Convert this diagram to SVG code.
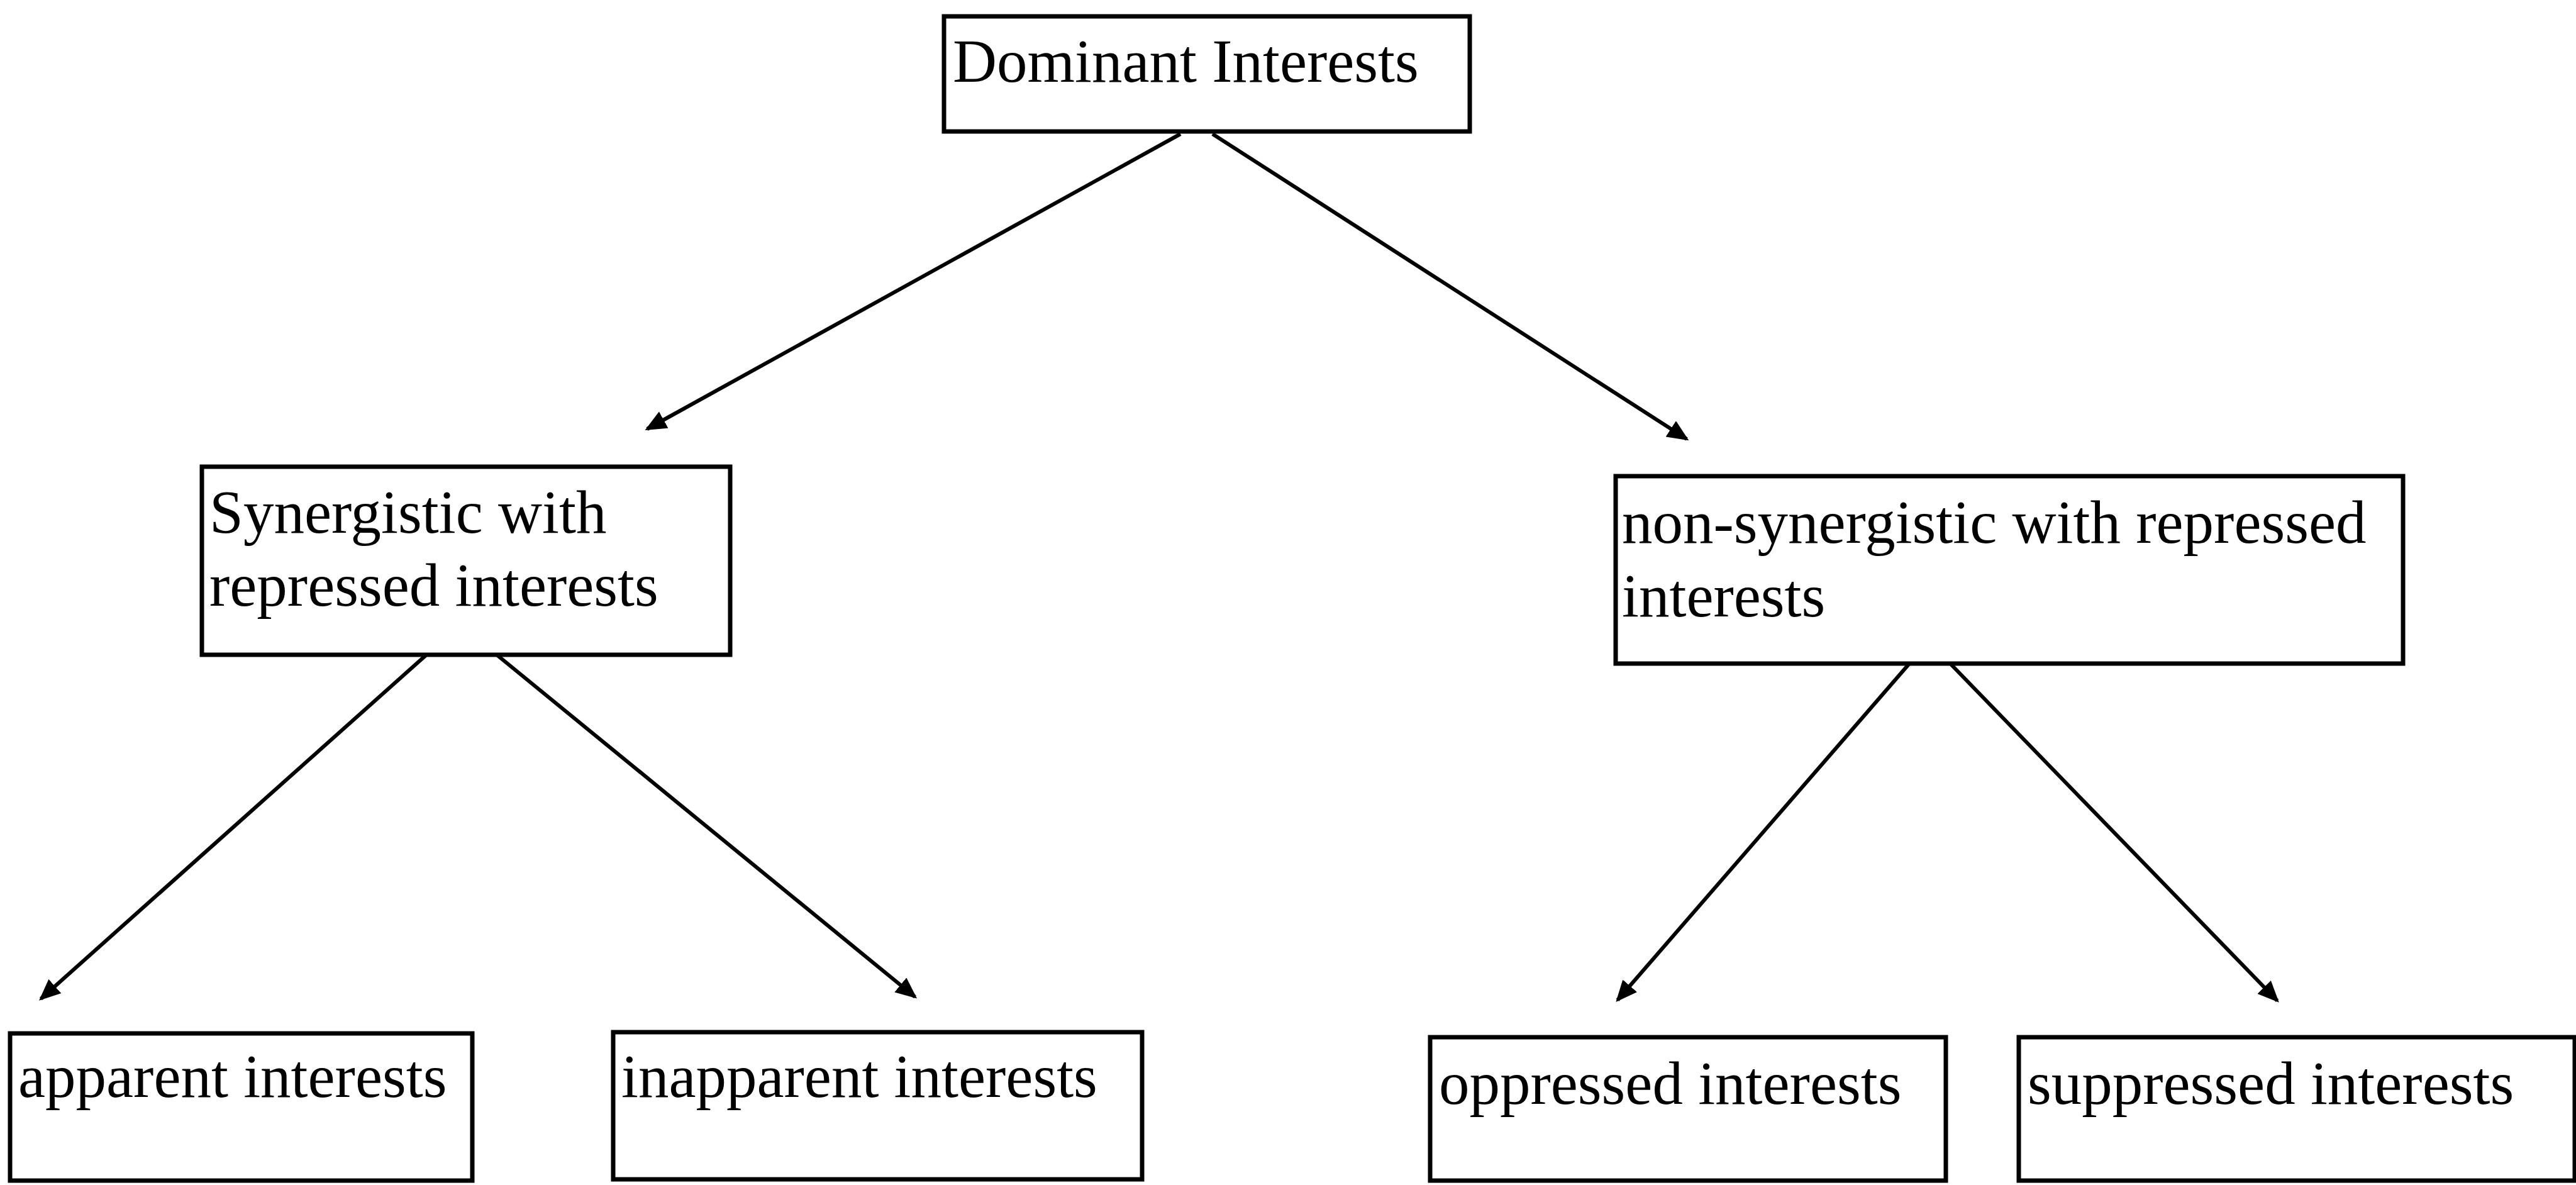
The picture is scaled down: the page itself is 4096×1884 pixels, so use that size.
<svg xmlns="http://www.w3.org/2000/svg" width="4096" height="1884" viewBox="0 0 4096 1884">
<style>
.box{fill:#fff;stroke:#000;stroke-width:7}
.t{font-family:"Liberation Serif","Times New Roman",serif;font-size:97px;fill:#000}
.c{stroke:#000;stroke-width:6;fill:none;marker-end:url(#ah)}
</style>
<defs>
<marker id="ah" viewBox="0 0 34 30" refX="30" refY="15" markerWidth="34" markerHeight="30" markerUnits="userSpaceOnUse" orient="auto">
<path d="M0,0 L34,15 L0,30 Z" fill="#000"/>
</marker>
</defs>
<rect width="4096" height="1884" fill="#fff"/>
<g id="connectors">
<line class="c" x1="1877" y1="213" x2="1029" y2="682"/>
<line class="c" x1="1928" y1="213" x2="2682" y2="698"/>
<line class="c" x1="677" y1="1042" x2="65" y2="1588"/>
<line class="c" x1="791" y1="1042" x2="1455" y2="1585"/>
<line class="c" x1="3036" y1="1055" x2="2572" y2="1590"/>
<line class="c" x1="3101" y1="1055" x2="3621" y2="1591"/>
</g>
<g id="dominant">
<rect class="box" x="1501" y="26" width="836" height="183"/>
<text class="t" x="1515" y="130">Dominant Interests</text>
</g>
<g id="synergistic">
<rect class="box" x="321" y="742" width="840" height="299"/>
<text class="t" x="333" y="847">Synergistic with</text>
<text class="t" x="333" y="963">repressed interests</text>
</g>
<g id="nonsynergistic">
<rect class="box" x="2569" y="757" width="1252" height="298"/>
<text class="t" x="2579" y="863">non-synergistic with repressed</text>
<text class="t" x="2579" y="980">interests</text>
</g>
<g id="apparent">
<rect class="box" x="16" y="1643" width="735" height="234"/>
<text class="t" x="29" y="1744">apparent interests</text>
</g>
<g id="inapparent">
<rect class="box" x="975" y="1641" width="841" height="234"/>
<text class="t" x="988" y="1744">inapparent interests</text>
</g>
<g id="oppressed">
<rect class="box" x="2274" y="1649" width="820" height="228"/>
<text class="t" x="2288" y="1755">oppressed interests</text>
</g>
<g id="suppressed">
<rect class="box" x="3210" y="1649" width="884" height="228"/>
<text class="t" x="3224" y="1755">suppressed interests</text>
</g>
</svg>
